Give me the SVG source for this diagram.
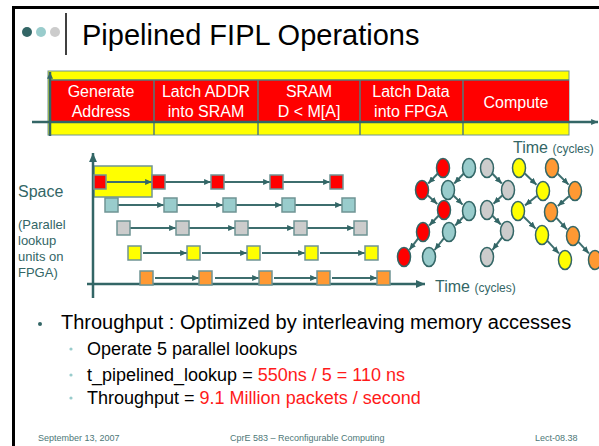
<svg xmlns="http://www.w3.org/2000/svg" width="599" height="446" viewBox="0 0 599 446">
<defs>
<style>
text{font-family:"Liberation Sans",Arial,sans-serif}
.cell{fill:#ff0000;stroke:none}
.div{stroke:#4f7d7d;stroke-width:1.5}
.ct{fill:#ffffff;font-size:16px;text-anchor:middle}
.teal{fill:#336666}
.ax{stroke:#336666;stroke-width:2.5;fill:none}
.ar{stroke:#3d6e6e;stroke-width:2;fill:none}
.sq{stroke:#6f9494;stroke-width:1.5}
.el{stroke:#336666;stroke-width:1.5}
.r{fill:#ff0000}.t{fill:#99cccc}.g{fill:#cccccc}.y{fill:#ffff00}.o{fill:#ff9933}
.bt{fill:#000000}
.red{fill:#ff1a1a}
.ft{fill:#4d7777;font-size:9px}
</style>
<marker id="ah" viewBox="0 0 8 7" markerWidth="7" markerHeight="6" refX="8" refY="3.5" orient="auto" markerUnits="userSpaceOnUse"><path d="M0,0 L8,3.5 L0,7 z" fill="#336666"/></marker>
<marker id="ahb" viewBox="0 0 8 7" markerWidth="9" markerHeight="8" refX="8" refY="3.5" orient="auto" markerUnits="userSpaceOnUse"><path d="M0,0 L8,3.5 L0,7 z" fill="#336666"/></marker>
</defs>
<rect x="0" y="0" width="599" height="446" fill="#ffffff"/>
<rect x="13.5" y="7.5" width="620" height="460" fill="none" stroke="#000000" stroke-width="3"/>

<g id="title">
<circle cx="27" cy="32" r="5" fill="#336666"/>
<circle cx="41" cy="32" r="5" fill="#99cccc"/>
<circle cx="55" cy="32" r="5" fill="#cccccc"/>
<line x1="66" y1="13" x2="66" y2="55" stroke="#000000" stroke-width="1.5"/>
<text x="82" y="45" font-size="29">Pipelined FIPL Operations</text>
</g>

<g id="pipeline">
<rect x="48" y="71" width="521" height="64" fill="#ffff00" stroke="#6f9494" stroke-width="1"/>
<rect class="cell" x="49" y="80" width="520" height="42"/>
<g class="div">
<line x1="50" y1="80" x2="50" y2="135"/>
<line x1="154" y1="80" x2="154" y2="135"/>
<line x1="258" y1="80" x2="258" y2="135"/>
<line x1="360" y1="80" x2="360" y2="135"/>
<line x1="463" y1="80" x2="463" y2="135"/>
<line x1="49" y1="80" x2="569" y2="80"/>
</g>
<text class="ct" x="101" y="97">Generate</text>
<text class="ct" x="101" y="117">Address</text>
<text class="ct" x="206" y="97">Latch ADDR</text>
<text class="ct" x="206" y="117">into SRAM</text>
<text class="ct" x="309" y="97">SRAM</text>
<text class="ct" x="309" y="117">D &lt; M[A]</text>
<text class="ct" x="411" y="97">Latch Data</text>
<text class="ct" x="411" y="117">into FPGA</text>
<text class="ct" x="516" y="108">Compute</text>
</g>

<g id="pipeline-axes">
<line class="ax" x1="50" y1="136" x2="50" y2="72" marker-end="url(#ah)"/>
<line class="ax" x1="32" y1="122" x2="598" y2="122" marker-end="url(#ah)"/>
</g>

<g id="labels">
<text class="teal" x="18" y="197" font-size="16">Space</text>
<text class="teal" x="18" y="229" font-size="13">(Parallel</text>
<text class="teal" x="18" y="245" font-size="13">lookup</text>
<text class="teal" x="18" y="261" font-size="13">units on</text>
<text class="teal" x="18" y="277" font-size="13">FPGA)</text>
<text class="teal" x="435" y="292" font-size="16">Time <tspan font-size="12">(cycles)</tspan></text>
<text class="teal" x="513" y="153" font-size="16">Time <tspan font-size="12">(cycles)</tspan></text>
</g>

<g id="space-time">
<rect x="94" y="166" width="58" height="31" fill="#ffff00" stroke="#6f9494" stroke-width="1.5"/>
<line class="ax" x1="93" y1="298" x2="93" y2="153" marker-end="url(#ahb)"/>
<line class="ax" x1="87" y1="284" x2="425" y2="284" marker-end="url(#ahb)"/>
</g>

<g id="connectors">
<g class="ar" marker-end="url(#ah)">
<line x1="107" y1="182" x2="152" y2="182"/>
<line x1="165" y1="182" x2="211" y2="182"/>
<line x1="224" y1="182" x2="270" y2="182"/>
<line x1="283" y1="182" x2="330" y2="182"/>
<line x1="118" y1="205" x2="164" y2="205"/>
<line x1="177" y1="205" x2="223" y2="205"/>
<line x1="236" y1="205" x2="282" y2="205"/>
<line x1="295" y1="205" x2="342" y2="205"/>
<line x1="130" y1="228" x2="176" y2="228"/>
<line x1="189" y1="228" x2="235" y2="228"/>
<line x1="248" y1="228" x2="294" y2="228"/>
<line x1="307" y1="228" x2="354" y2="228"/>
<line x1="143" y1="253" x2="187" y2="253"/>
<line x1="202" y1="253" x2="247" y2="253"/>
<line x1="262" y1="253" x2="305" y2="253"/>
<line x1="320" y1="253" x2="365" y2="253"/>
<line x1="155" y1="278" x2="199" y2="278"/>
<line x1="215" y1="278" x2="259" y2="278"/>
<line x1="274" y1="278" x2="317" y2="278"/>
<line x1="332" y1="278" x2="377" y2="278"/>
</g>
<g class="ar" stroke-width="2.5" marker-end="url(#ah)">
<line x1="437.5" y1="173.8" x2="428.2" y2="183.5"/>
<line x1="427.9" y1="195.4" x2="437.3" y2="203.9"/>
<line x1="438.5" y1="215.8" x2="429.2" y2="225.5"/>
<line x1="418.2" y1="238.4" x2="409.4" y2="249.8"/>
<line x1="463.5" y1="173.8" x2="454.2" y2="183.5"/>
<line x1="453.7" y1="195.7" x2="462.6" y2="204.6"/>
<line x1="463.5" y1="216.8" x2="455.2" y2="225.5"/>
<line x1="444" y1="238.2" x2="434.6" y2="250"/>
<line x1="492.5" y1="173.8" x2="501.8" y2="183.5"/>
<line x1="502.2" y1="195.5" x2="493.5" y2="203.8"/>
<line x1="492.5" y1="215.8" x2="500.8" y2="224.5"/>
<line x1="502.1" y1="237.3" x2="492.5" y2="249.9"/>
<line x1="524.8" y1="173.5" x2="536.5" y2="184.8"/>
<line x1="536.8" y1="196" x2="525" y2="205.4"/>
<line x1="523.7" y1="216.7" x2="535.6" y2="228.6"/>
<line x1="547.4" y1="240.9" x2="558.9" y2="253.4"/>
<line x1="557.7" y1="173.7" x2="568.6" y2="184.6"/>
<line x1="569" y1="196.3" x2="557.8" y2="206.1"/>
<line x1="556.4" y1="217.9" x2="566.9" y2="229.4"/>
<line x1="578.4" y1="241.9" x2="588.9" y2="253.4"/>
</g>
</g>

<g id="squares">
<g class="sq r"><rect x="94" y="175" width="12" height="14"/><rect x="152" y="175" width="13" height="14"/><rect x="211" y="175" width="13" height="14"/><rect x="270" y="175" width="13" height="14"/><rect x="330" y="175" width="13" height="14"/></g>
<g class="sq t"><rect x="105" y="198" width="13" height="14"/><rect x="164" y="198" width="13" height="14"/><rect x="223" y="198" width="13" height="14"/><rect x="282" y="198" width="13" height="14"/><rect x="342" y="198" width="13" height="14"/></g>
<g class="sq g"><rect x="117" y="221" width="13" height="14"/><rect x="176" y="221" width="13" height="14"/><rect x="235" y="221" width="13" height="14"/><rect x="294" y="221" width="13" height="14"/><rect x="354" y="221" width="13" height="14"/></g>
<g class="sq y"><rect x="128" y="246" width="13" height="14"/><rect x="187" y="246" width="13" height="14"/><rect x="247" y="246" width="13" height="14"/><rect x="305" y="246" width="13" height="14"/><rect x="365" y="246" width="13" height="14"/></g>
<g class="sq o"><rect x="140" y="271" width="13" height="14"/><rect x="199" y="271" width="13" height="14"/><rect x="259" y="271" width="13" height="14"/><rect x="317" y="271" width="13" height="14"/><rect x="377" y="271" width="13" height="14"/></g>
</g>

<g id="ellipses">
<g class="el r"><ellipse cx="443" cy="168" rx="6.5" ry="9.5"/><ellipse cx="422" cy="190" rx="6.5" ry="9.5"/><ellipse cx="444" cy="210" rx="6.5" ry="9.5"/><ellipse cx="423" cy="232" rx="6.5" ry="9.5"/><ellipse cx="404" cy="257" rx="6.5" ry="9.5"/></g>
<g class="el t"><ellipse cx="469" cy="168" rx="6.5" ry="9.5"/><ellipse cx="448" cy="190" rx="6.5" ry="9.5"/><ellipse cx="469" cy="211" rx="6.5" ry="9.5"/><ellipse cx="449" cy="232" rx="6.5" ry="9.5"/><ellipse cx="429" cy="257" rx="6.5" ry="9.5"/></g>
<g class="el g"><ellipse cx="487" cy="168" rx="6.5" ry="9.5"/><ellipse cx="508" cy="190" rx="6.5" ry="9.5"/><ellipse cx="487" cy="210" rx="6.5" ry="9.5"/><ellipse cx="507" cy="231" rx="6.5" ry="9.5"/><ellipse cx="487" cy="257" rx="6.5" ry="9.5"/></g>
<g class="el y"><ellipse cx="519" cy="168" rx="6.5" ry="9.5"/><ellipse cx="543" cy="191" rx="6.5" ry="9.5"/><ellipse cx="518" cy="211" rx="6.5" ry="9.5"/><ellipse cx="542" cy="235" rx="6.5" ry="9.5"/><ellipse cx="565" cy="260" rx="6.5" ry="9.5"/></g>
<g class="el o"><ellipse cx="552" cy="168" rx="6.5" ry="9.5"/><ellipse cx="575" cy="191" rx="6.5" ry="9.5"/><ellipse cx="551" cy="212" rx="6.5" ry="9.5"/><ellipse cx="573" cy="236" rx="6.5" ry="9.5"/><ellipse cx="595" cy="260" rx="6.5" ry="9.5"/></g>
</g>

<g id="bullets">
<circle cx="40" cy="324" r="2" fill="#336666"/>
<text class="bt" x="61" y="329" font-size="20">Throughput : Optimized by interleaving memory accesses</text>
<circle cx="71" cy="349" r="1.6" fill="#99cccc"/>
<text class="bt" x="87" y="355" font-size="18">Operate 5 parallel lookups</text>
<circle cx="71" cy="375" r="1.6" fill="#99cccc"/>
<text class="bt" x="87" y="381" font-size="18">t_pipelined_lookup = <tspan class="red">550ns / 5 = 110 ns</tspan></text>
<circle cx="71" cy="398" r="1.6" fill="#99cccc"/>
<text class="bt" x="87" y="404" font-size="18">Throughput = <tspan class="red">9.1 Million packets / second</tspan></text>
</g>

<g id="footer">
<text class="ft" x="38" y="441">September 13, 2007</text>
<text class="ft" x="230" y="441">CprE 583 – Reconfigurable Computing</text>
<text class="ft" x="535" y="441">Lect-08.38</text>
</g>
</svg>
